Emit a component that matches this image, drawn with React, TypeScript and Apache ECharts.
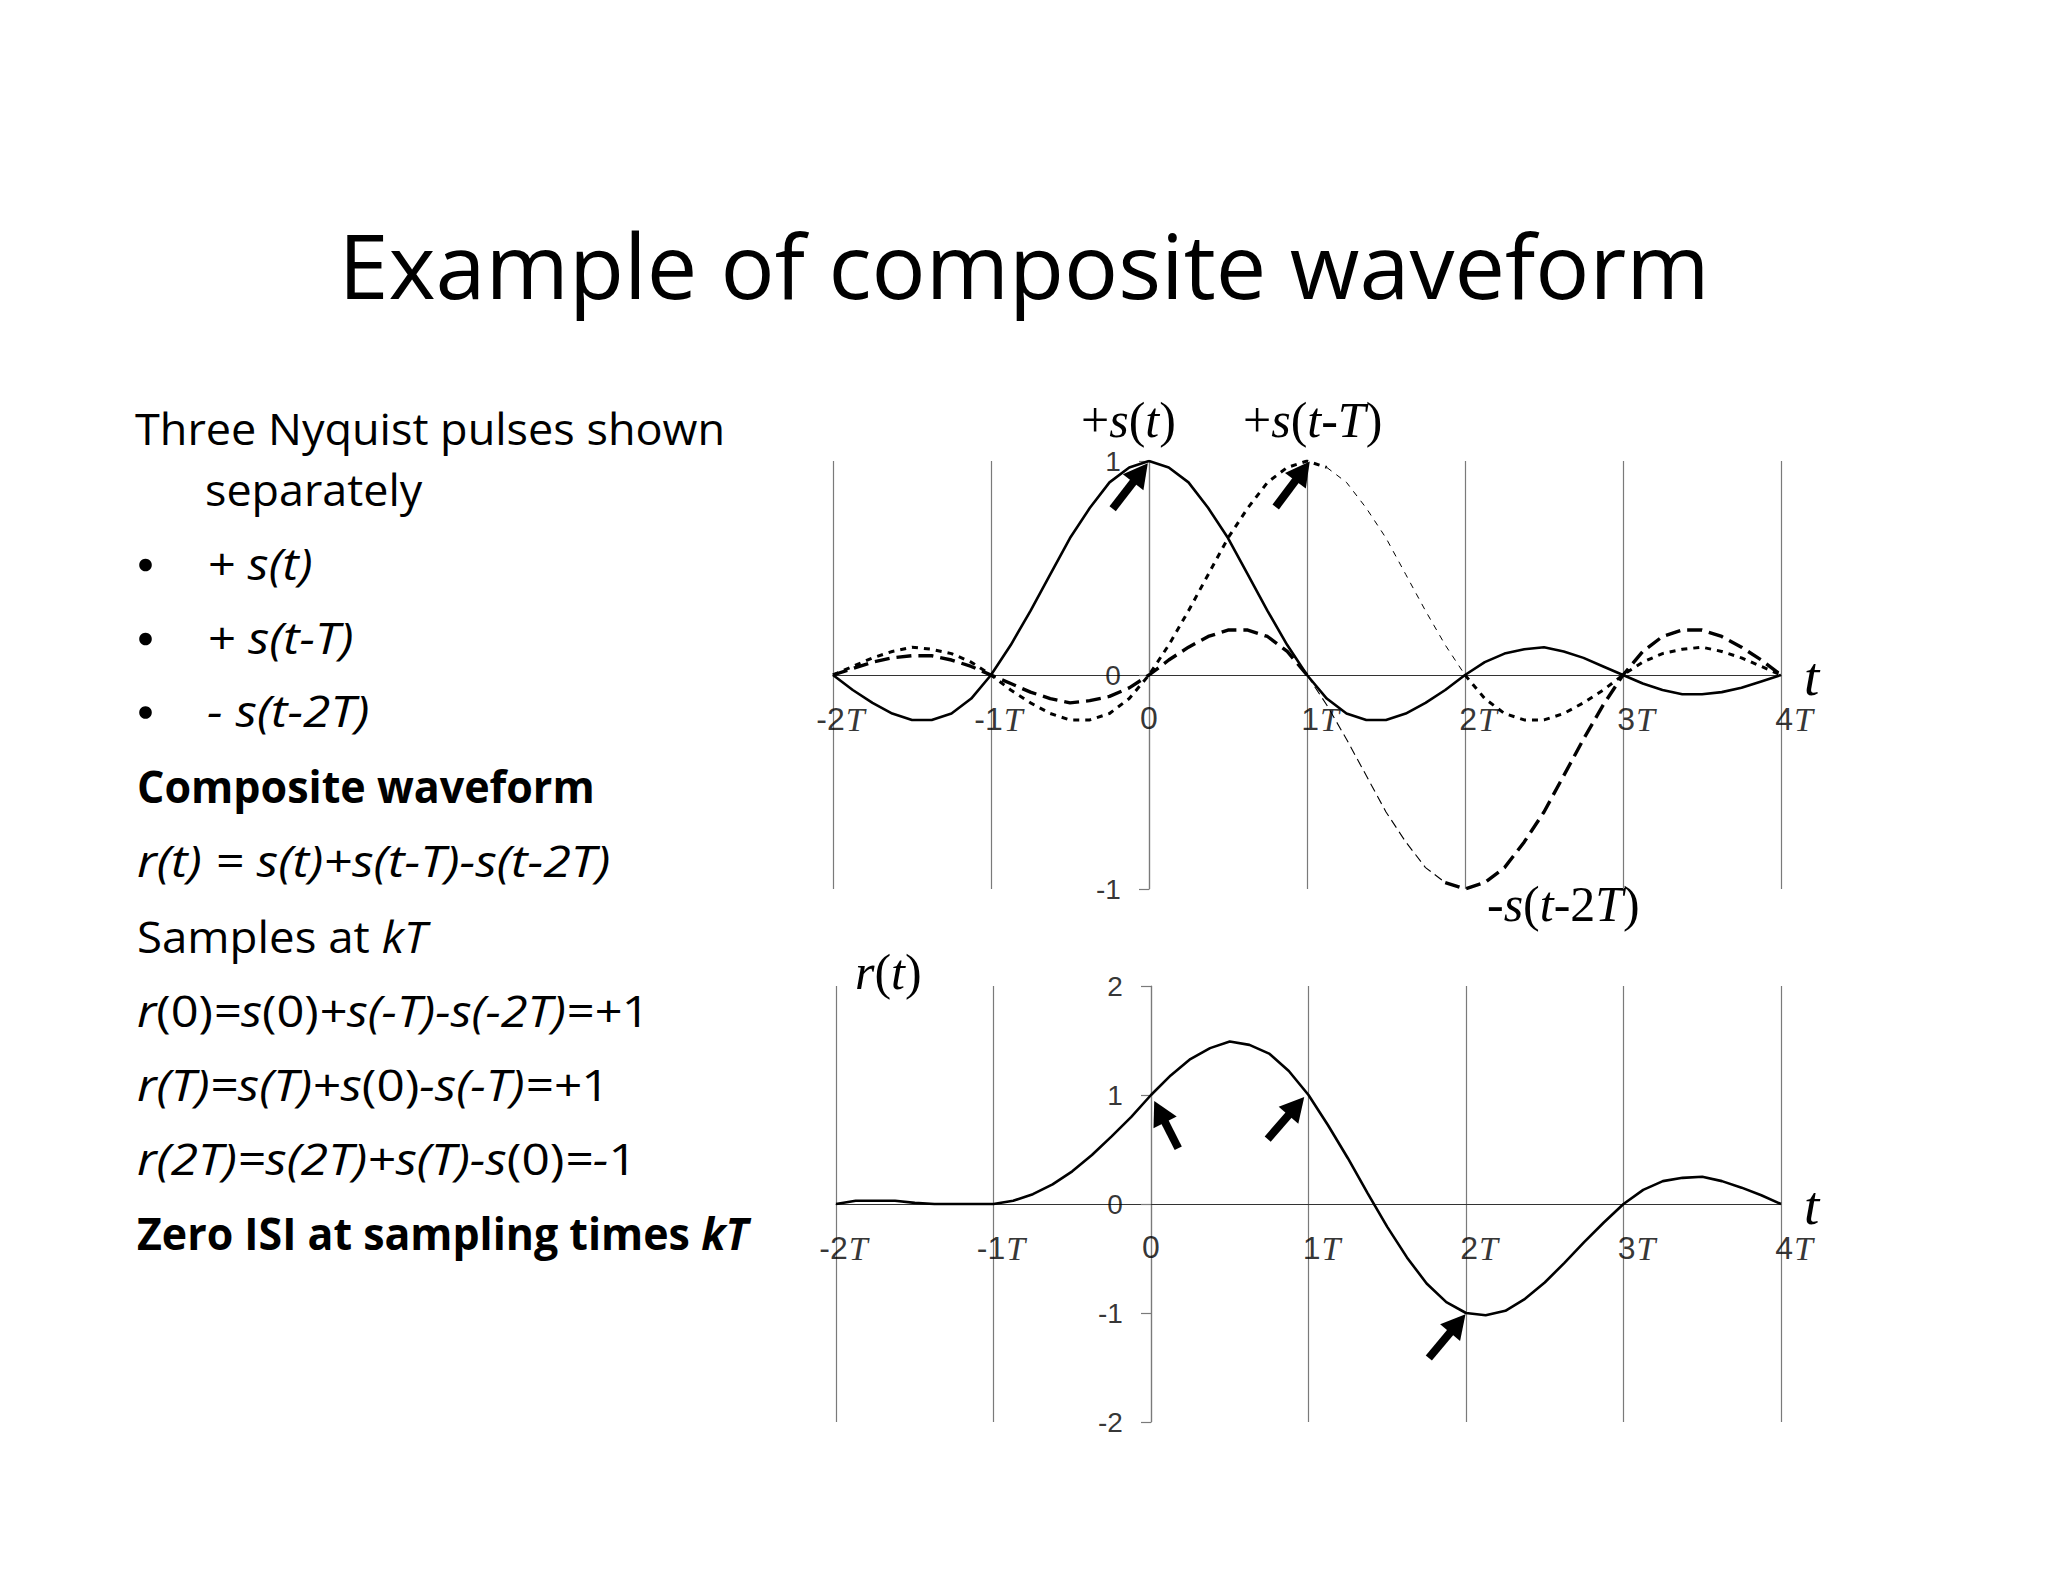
import React, { useEffect, useRef } from 'react';
import * as echarts from 'echarts';

// ---------- data ----------
const T_VALUES = [
  -2, -1.875, -1.75, -1.625, -1.5, -1.375, -1.25, -1.125,
  -1, -0.875, -0.75, -0.625, -0.5, -0.375, -0.25, -0.125,
  0, 0.125, 0.25, 0.375, 0.5, 0.625, 0.75, 0.875,
  1, 1.125, 1.25, 1.375, 1.5, 1.625, 1.75, 1.875,
  2, 2.125, 2.25, 2.375, 2.5, 2.625, 2.75, 2.875,
  3, 3.125, 3.25, 3.375, 3.5, 3.625, 3.75, 3.875,
  4,
];

const S_T = [
  0, -0.07, -0.13, -0.18, -0.21, -0.21, -0.18, -0.11,
  0, 0.14, 0.3, 0.47, 0.64, 0.78, 0.9, 0.97,
  1, 0.97, 0.9, 0.78, 0.64, 0.47, 0.3, 0.14,
  0, -0.11, -0.18, -0.21, -0.21, -0.18, -0.13, -0.07,
  0, 0.06, 0.1, 0.12, 0.13, 0.11, 0.08, 0.04,
  0, -0.04, -0.07, -0.09, -0.09, -0.08, -0.06, -0.03,
  0,
];

const S_T_MINUS_T = [
  0, 0.04, 0.08, 0.11, 0.13, 0.12, 0.1, 0.06,
  0, -0.07, -0.13, -0.18, -0.21, -0.21, -0.18, -0.11,
  0, 0.14, 0.3, 0.47, 0.64, 0.78, 0.9, 0.97,
  1, 0.97, 0.9, 0.78, 0.64, 0.47, 0.3, 0.14,
  0, -0.11, -0.18, -0.21, -0.21, -0.18, -0.13, -0.07,
  0, 0.06, 0.1, 0.12, 0.13, 0.11, 0.08, 0.04,
  0,
];

const NEG_S_T_MINUS_2T = [
  0, 0.03, 0.06, 0.08, 0.09, 0.09, 0.07, 0.04,
  0, -0.04, -0.08, -0.11, -0.13, -0.12, -0.1, -0.06,
  0, 0.07, 0.13, 0.18, 0.21, 0.21, 0.18, 0.11,
  0, -0.14, -0.3, -0.47, -0.64, -0.78, -0.9, -0.97,
  -1, -0.97, -0.9, -0.78, -0.64, -0.47, -0.3, -0.14,
  0, 0.11, 0.18, 0.21, 0.21, 0.18, 0.13, 0.07,
  0,
];

const R_T = [
  0, 0.03, 0.03, 0.03, 0.01, 0, 0, 0,
  0, 0.03, 0.09, 0.18, 0.3, 0.45, 0.62, 0.8,
  1, 1.18, 1.33, 1.43, 1.49, 1.46, 1.38, 1.22,
  1, 0.72, 0.42, 0.1, -0.21, -0.49, -0.73, -0.9,
  -1, -1.02, -0.98, -0.87, -0.72, -0.54, -0.35, -0.17,
  0, 0.13, 0.21, 0.24, 0.25, 0.21, 0.15, 0.08,
  0,
];

const X_TICKS = [-2, -1, 0, 1, 2, 3, 4];
const X_TICK_TEXT = ['-2T', '-1T', '0', '1T', '2T', '3T', '4T'];
const TOP_Y_TICKS = [-1, 0, 1];
const BOTTOM_Y_TICKS = [-2, -1, 0, 1, 2];

// arrows: [tail, head] in data coordinates (t, value)
const TOP_ARROWS = [
  [[-0.23, 0.777], [-0.054, 0.945]],
  [[0.802, 0.785], [0.972, 0.953]],
  [[1.772, -1.209], [1.969, -1.048]],
];
const BOTTOM_ARROWS = [
  [[0.173, 0.511], [0.055, 0.847]],
  [[0.741, 0.596], [0.923, 0.898]],
  [[1.764, -1.413], [1.948, -1.095]],
];

const TITLE = 'Example of composite waveform';

// ---------- helpers ----------
const SANS = '"Open Sans", "Noto Sans", sans-serif';
const SERIF = '"Liberation Serif", "Times New Roman", serif';
const ARIAL = '"Liberation Sans", Arial, sans-serif';

const pairs = (ys: number[]) => T_VALUES.map((t, i) => [t, ys[i]]);
const segment = (ys: number[], ranges: number[][]) =>
  T_VALUES.map((t, i) => (ranges.some(([a, b]) => t >= a && t <= b) ? [t, ys[i]] : [t, '-']));

const xLabel = (p: any) => {
  const v = p.value[0];
  const txt = X_TICK_TEXT[X_TICKS.indexOf(v)];
  if (txt === undefined) return '';
  if (!txt.endsWith('T')) return `{n|${txt}}`;
  const num = txt.slice(0, -1);
  const pad = num.startsWith('-') ? 'pn' : 'pp';
  return `{${pad}| }{n|${num}}{t|T}`;
};

const xRich = {
  n: { fontFamily: ARIAL, fontSize: 32, color: '#000' },
  t: { fontFamily: SERIF, fontStyle: 'italic', fontSize: 34, color: '#000', padding: [0, 0, 0, 1] },
  pp: { width: 26, fontSize: 32 },
  pn: { width: 15, fontSize: 32 },
};

const makeX = (gridIndex: number) => ({
  type: 'value',
  gridIndex,
  min: -2,
  max: 4,
  interval: 1,
  axisLine: { show: true, onZero: true, lineStyle: { color: '#333', width: 1 } },
  axisTick: { show: false },
  splitLine: { show: true, lineStyle: { color: '#7a7a7a', width: 1.2 } },
  axisLabel: { show: false },
});

const makeY = (gridIndex: number, ticks: number[]) => ({
  type: 'value',
  gridIndex,
  min: ticks[0],
  max: ticks[ticks.length - 1],
  interval: 1,
  axisLine: { show: true, onZero: true, lineStyle: { color: '#7a7a7a', width: 1.2 } },
  axisTick: { show: true, length: 10, lineStyle: { color: '#7a7a7a', width: 1.2 } },
  splitLine: { show: false },
  axisLabel: { show: false },
});

const xLabelSeries = (idx: number) => ({
  type: 'scatter',
  xAxisIndex: idx,
  yAxisIndex: idx,
  silent: true,
  symbolSize: 0.1,
  itemStyle: { color: 'rgba(0,0,0,0)' },
  data: X_TICKS.map((t) => [t, 0]),
  label: {
    show: true,
    position: 'bottom',
    distance: 27,
    formatter: xLabel,
    rich: xRich,
  },
  z: 6,
});

const yLabelSeries = (idx: number, ticks: number[]) => ({
  type: 'scatter',
  xAxisIndex: idx,
  yAxisIndex: idx,
  silent: true,
  symbolSize: 0.1,
  itemStyle: { color: 'rgba(0,0,0,0)' },
  data: ticks.map((v) => [0, v]),
  label: {
    show: true,
    position: 'left',
    distance: 28,
    fontFamily: ARIAL,
    fontSize: 28,
    color: '#000',
    formatter: (p: any) => String(p.value[1]),
  },
  z: 6,
});

const arrowMarkLine = (arrows: number[][][]) => ({
  silent: true,
  symbol: ['none', 'triangle'],
  symbolSize: [26, 24],
  lineStyle: { color: '#000', width: 8, type: 'solid', opacity: 1 },
  label: { show: false },
  emphasis: { disabled: true },
  data: arrows.map(([a, b]) => [{ coord: a }, { coord: b }]),
});

// text helpers (y given as baseline)
const OPEN_C = 0.388;
const SERIF_C = 0.3375;

const bodyRich = {
  n: { fontFamily: SANS, fontSize: 44, fill: '#000' },
  i: { fontFamily: SANS, fontSize: 44, fontStyle: 'italic', fill: '#000' },
  b: { fontFamily: SANS, fontSize: 44, fontWeight: 'bold', fill: '#000' },
  bi: { fontFamily: SANS, fontSize: 44, fontWeight: 'bold', fontStyle: 'italic', fill: '#000' },
};

const bodyText = (x: number, baseline: number, text: string, sx: number) => ({
  type: 'text',
  x,
  y: baseline - 44 * OPEN_C,
  scaleX: sx,
  silent: true,
  style: {
    text,
    rich: bodyRich,
    fontFamily: SANS,
    fontSize: 44,
    fill: '#000',
    align: 'left',
    textAlign: 'left',
    verticalAlign: 'middle',
    textVerticalAlign: 'middle',
  },
});

const serifRich = (size: number) => ({
  u: { fontFamily: SERIF, fontSize: size, fill: '#000' },
  i: { fontFamily: SERIF, fontSize: size, fontStyle: 'italic', fill: '#000' },
});

const serifText = (x: number, baseline: number, text: string, size = 50) => ({
  type: 'text',
  x,
  y: baseline - size * SERIF_C,
  silent: true,
  style: {
    text,
    rich: serifRich(size),
    fontFamily: SERIF,
    fontSize: size,
    fill: '#000',
    align: 'left',
    textAlign: 'left',
    verticalAlign: 'middle',
    textVerticalAlign: 'middle',
  },
});

// [x, baseline, rich text, horizontal scale]
const BODY_LINES: [number, number, string, number][] = [
  [135, 445, '{n|Three Nyquist pulses shown}', 1.023],
  [205, 506, '{n|separately}', 1.02],
  [207, 580, '{i|+ s(t)}', 1.11],
  [207, 654, '{i|+ s(t-T)}', 1.12],
  [207, 727, '{i|- s(t-2T)}', 1.13],
  [137, 803, '{b|Composite waveform}', 0.978],
  [137, 877, '{i|r(t) = s(t)+s(t-T)-s(t-2T)}', 1.14],
  [137, 953, '{n|Samples at }{i|kT}', 1.037],
  [137, 1027, '{i|r}{n|(0)}{i|=s}{n|(0)}{i|+s(-T)-s(-2T)=+}{n|1}', 1.11],
  [137, 1101, '{i|r(T)=s(T)+s}{n|(0)}{i|-s(-T)=+}{n|1}', 1.126],
  [137, 1175, '{i|r(2T)=s(2T)+s(T)-s}{n|(0)}{i|=-}{n|1}', 1.128],
  [137, 1250, '{b|Zero ISI at sampling times }{bi|kT}', 0.975],
];

const BULLET_Y = [565, 639, 712.5];

export default function App() {
  const ref = useRef<HTMLDivElement>(null);

  useEffect(() => {
    if (!ref.current) return;
    const chart = echarts.init(ref.current, undefined, { renderer: 'svg', width: 2048, height: 1582 });

    const option: any = {
      animation: false,
      backgroundColor: '#ffffff',
      grid: [
        { left: 833, top: 461, width: 948, height: 428, containLabel: false },
        { left: 836, top: 986, width: 945, height: 436, containLabel: false },
      ],
      xAxis: [makeX(0), makeX(1)],
      yAxis: [makeY(0, TOP_Y_TICKS), makeY(1, BOTTOM_Y_TICKS)],
      series: [
        {
          name: '-s(t-2T) thick',
          type: 'line',
          xAxisIndex: 0,
          yAxisIndex: 0,
          symbol: 'none',
          data: segment(NEG_S_T_MINUS_2T, [[-2, 1], [1.875, 4]]),
          lineStyle: { color: '#000', width: 3.4, type: [15, 7] },
          z: 3,
        },
        {
          name: '-s(t-2T) thin',
          type: 'line',
          xAxisIndex: 0,
          yAxisIndex: 0,
          symbol: 'none',
          data: segment(NEG_S_T_MINUS_2T, [[1, 1.875]]),
          lineStyle: { color: '#000', width: 1.1, type: [9, 5] },
          z: 3,
        },
        {
          name: 's(t-T) thick',
          type: 'line',
          xAxisIndex: 0,
          yAxisIndex: 0,
          symbol: 'none',
          data: segment(S_T_MINUS_T, [[-2, 1.125], [2, 4]]),
          lineStyle: { color: '#000', width: 3, type: [6, 6] },
          z: 3,
        },
        {
          name: 's(t-T) thin',
          type: 'line',
          xAxisIndex: 0,
          yAxisIndex: 0,
          symbol: 'none',
          data: segment(S_T_MINUS_T, [[1.125, 2]]),
          lineStyle: { color: '#000', width: 1, type: [6, 6] },
          z: 3,
        },
        {
          name: 's(t)',
          type: 'line',
          xAxisIndex: 0,
          yAxisIndex: 0,
          symbol: 'none',
          data: pairs(S_T),
          lineStyle: { color: '#000', width: 2.6 },
          markLine: arrowMarkLine(TOP_ARROWS),
          z: 4,
        },
        {
          name: 'r(t)',
          type: 'line',
          xAxisIndex: 1,
          yAxisIndex: 1,
          symbol: 'none',
          data: pairs(R_T),
          lineStyle: { color: '#000', width: 2.6 },
          markLine: arrowMarkLine(BOTTOM_ARROWS),
          z: 4,
        },
        xLabelSeries(0),
        xLabelSeries(1),
        yLabelSeries(0, TOP_Y_TICKS),
        yLabelSeries(1, BOTTOM_Y_TICKS),
      ],
      graphic: [
        {
          type: 'text',
          x: 1024,
          y: 299 - 90 * OPEN_C,
          silent: true,
          style: {
            text: TITLE,
            fontFamily: SANS,
            fontSize: 90,
            fill: '#000',
            align: 'center',
            textAlign: 'center',
            verticalAlign: 'middle',
            textVerticalAlign: 'middle',
          },
        },
        ...BODY_LINES.map(([x, b, t, s]) => bodyText(x, b, t, s)),
        ...BULLET_Y.map((y) => ({
          type: 'circle',
          silent: true,
          shape: { cx: 145.5, cy: y, r: 6.3 },
          style: { fill: '#000' },
        })),
        serifText(1081, 437, '{u|+}{i|s}{u|(}{i|t}{u|)}'),
        serifText(1243, 437, '{u|+}{i|s}{u|(}{i|t}{u|-}{i|T}{u|)}'),
        serifText(1487, 921, '{u|-}{i|s}{u|(}{i|t}{u|-2}{i|T}{u|)}'),
        serifText(855, 989, '{i|r}{u|(}{i|t}{u|)}'),
        serifText(1804, 695, '{i|t}', 55),
        serifText(1804, 1224, '{i|t}', 55),
      ],
    };

    chart.setOption(option);
    return () => chart.dispose();
  }, []);

  return (
    <div
      ref={ref}
      style={{ position: 'fixed', left: 0, top: 0, width: 2048, height: 1582, background: '#ffffff' }}
    />
  );
}
